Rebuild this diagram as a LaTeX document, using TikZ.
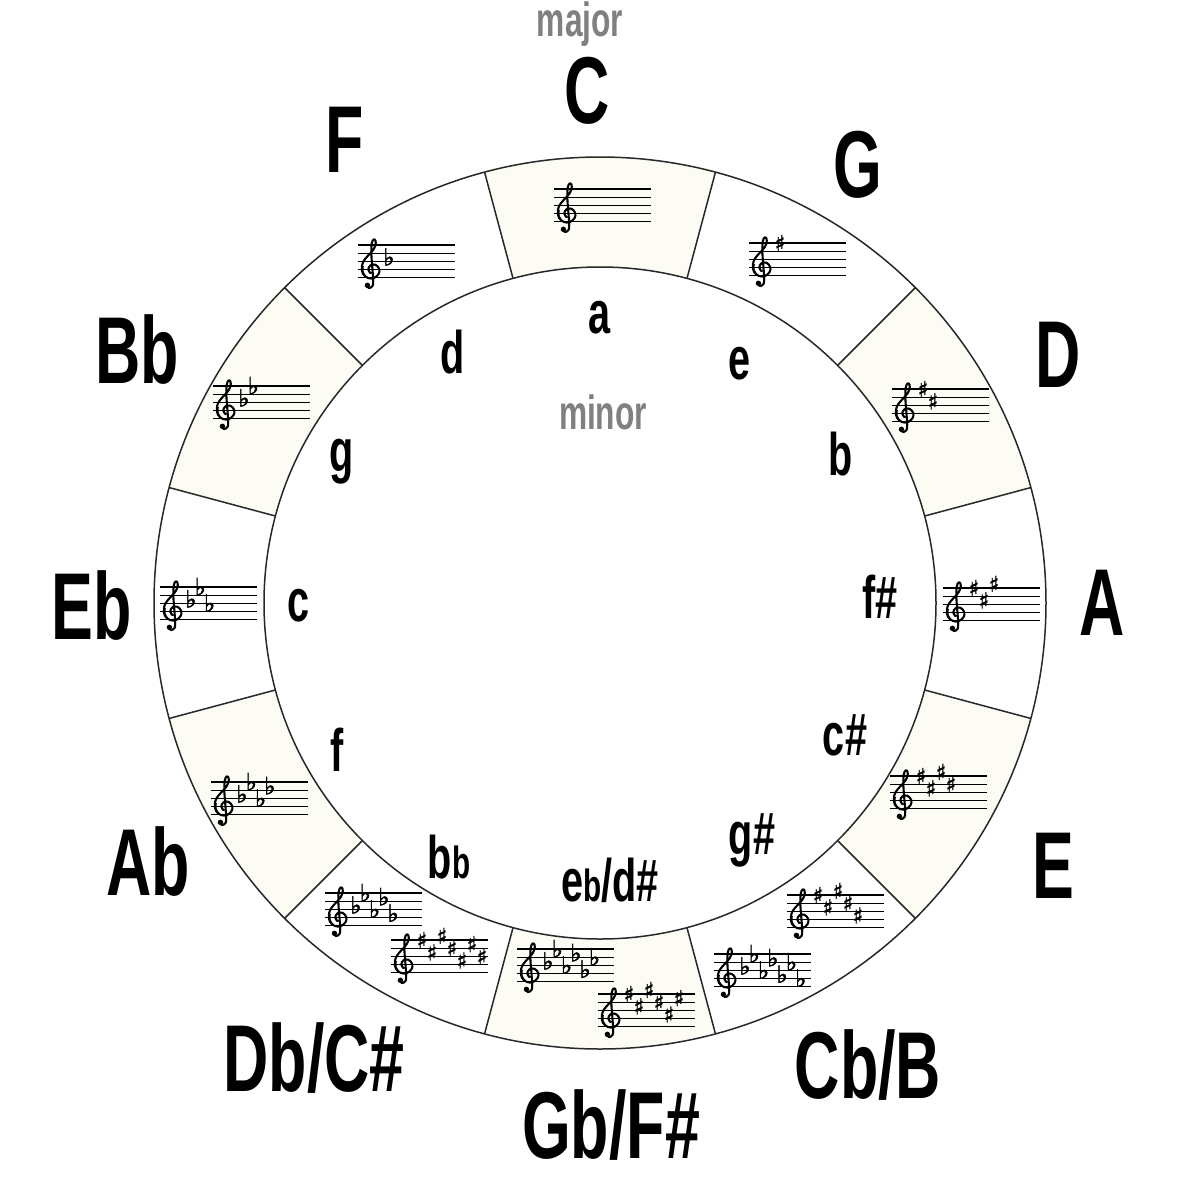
\documentclass[tikz,border=0pt]{standalone}
\usepackage{fontspec}
\setmainfont{Liberation Sans}
\newfontfamily\labelfont{Liberation Sans}[FakeStretch=0.66]
\newfontfamily\musicfont{DejaVu Sans}[FakeBold=1.6]
\definecolor{segfill}{RGB}{252,252,244}
\definecolor{ringline}{RGB}{40,40,40}
\newcommand\smb{{\fontsize{45}{45}\selectfont b}}
\tikzset{
  majorlab/.style={font=\labelfont\bfseries\fontsize{95}{95}\selectfont, inner sep=0pt, text=black},
  minorlab/.style={font=\labelfont\bfseries\fontsize{60}{60}\selectfont, inner sep=0pt, text=black},
  graylab/.style={font=\labelfont\bfseries\fontsize{48}{48}\selectfont, inner sep=0pt, text=black!50},
  ringline/.style={draw=ringline, line width=1.5pt},
  staffline/.style={draw=black, line width=1.1pt},
  clefstroke/.style={draw=black, line width=2.1pt, line cap=round, line join=round},
  sharpsym/.style={font=\musicfont\fontsize{22}{22}\selectfont, inner sep=0pt},
  flatsym/.style={font=\musicfont\fontsize{24}{24}\selectfont, inner sep=0pt, anchor=south},
}
% treble clef drawn as a shape; #1 x of staff left, #2 y of top line
\newcommand\trebleclef[2]{%
  \begin{scope}[shift={(#1,#2)}]
    \draw[clefstroke] plot[smooth, tension=0.65] coordinates {
      (8.5,40.5) (11,43) (14.5,41) (15.2,36) (14.5,25) (13.5,12) (13.4,2)
      (14.5,-4) (16.6,-5.6) (17.8,-2) (15.8,4) (11,9.6) (6,15.5) (3.8,22)
      (5,28.8) (10,33) (16,33) (20.6,29) (21.2,24) (17.5,19.8) (12.5,20.3)
      (10.3,24.5) (12.5,28.2)};
    \draw[line width=1.3pt] plot[smooth, tension=0.65] coordinates {(5.2,21) (5,27) (8,31.5)};
    \fill (9.4,40.3) circle[radius=2.7];
  \end{scope}}
% #1 x of staff left, #2 y of top line, #3 number of sharps, #4 number of flats, #5 name
\newcommand\drawstaff[5]{%
  \foreach \i in {0,...,4} {\draw[staffline] (#1,{#2+8.2*\i}) -- ({#1+97},{#2+8.2*\i});}
  \trebleclef{#1}{#2}
  \foreach \p [count=\k] in {0,3,-1,2,5,1,4} {%
    \ifnum\k>#3\relax\else
      \node[sharpsym] (sh#5\k) at ({#1+31+10*(\k-1)},{#2+4.1*\p}) {♯};
    \fi}
  \foreach \p [count=\k] in {4,1,5,2,6,3,7} {%
    \ifnum\k>#4\relax\else
      \node[flatsym] (fl#5\k) at ({#1+31+9.3*(\k-1)},{#2+4.1*\p+4.5}) {♭};
    \fi}
}
\begin{document}
\begin{tikzpicture}[x=1pt,y=-1pt]
\fill[white] (0,0) rectangle (1200,1200);
\useasboundingbox (0,0) rectangle (1200,1200);
% shaded segments
\foreach \ph in {90,30,-30,-90,-150,150} {
  \fill[segfill, shift={(600,603)}] ({-(\ph+15)}:446) arc[start angle={-(\ph+15)}, end angle={-(\ph-15)}, radius=446]
    -- ({-(\ph-15)}:336) arc[start angle={-(\ph-15)}, end angle={-(\ph+15)}, radius=336] -- cycle;
}
\draw[ringline] (600,603) circle[radius=446];
\draw[ringline] (600,603) circle[radius=336];
\foreach \ph in {15,45,...,345} {
  \draw[ringline, shift={(600,603)}] ({-\ph}:336) -- ({-\ph}:446);
}
% staves
\drawstaff{554}{189}{0}{0}{C}
\drawstaff{749}{243}{1}{0}{G}
\drawstaff{892}{389}{2}{0}{D}
\drawstaff{943}{588}{3}{0}{A}
\drawstaff{890}{776}{4}{0}{E}
\drawstaff{787}{895}{5}{0}{B}
\drawstaff{714}{954}{0}{7}{Cb}
\drawstaff{598}{994}{6}{0}{Fs}
\drawstaff{517}{949}{0}{6}{Gb}
\drawstaff{391}{940}{7}{0}{Cs}
\drawstaff{325}{893}{0}{5}{Db}
\drawstaff{211}{782}{0}{4}{Ab}
\drawstaff{160}{587}{0}{3}{Eb}
\drawstaff{213}{386}{0}{2}{Bb}
\drawstaff{358}{245}{0}{1}{F}
% major labels
\node[graylab] (majortitle) at (580,24) {major};
\node[majorlab] (kC) at (587,91) {C};
\node[majorlab] (kG) at (858,165) {G};
\node[majorlab] (kD) at (1058,355) {D};
\node[majorlab] (kA) at (1102,603) {A};
\node[majorlab] (kE) at (1053,866) {E};
\node[majorlab] (kB) at (868,1065) {Cb/B};
\node[majorlab] (kFs) at (611,1125) {Gb/F\#};
\node[majorlab] (kCs) at (314,1058) {Db/C\#};
\node[majorlab] (kAb) at (148,862) {Ab};
\node[majorlab] (kEb) at (92,606) {Eb};
\node[majorlab] (kBb) at (137,350) {Bb};
\node[majorlab] (kF) at (345,140) {F};
% minor labels
\node[graylab] (minortitle) at (603,412) {minor};
\node[minorlab] (ma) at (600,318) {a};
\node[minorlab] (me) at (740,364) {e};
\node[minorlab] (mb) at (841,454) {b};
\node[minorlab] (mfs) at (880,597) {f\#};
\node[minorlab] (mcs) at (845,735) {c\#};
\node[minorlab] (mgs) at (752,840) {g\#};
\node[minorlab] (meb) at (610,880) {e\smb/d\#};
\node[minorlab] (mbb) at (449,857) {b\smb};
\node[minorlab] (mf) at (337,750) {f};
\node[minorlab] (mc) at (299,606) {c};
\node[minorlab] (mg) at (342,462) {g};
\node[minorlab] (md) at (453,352) {d};
\end{tikzpicture}
\end{document}
